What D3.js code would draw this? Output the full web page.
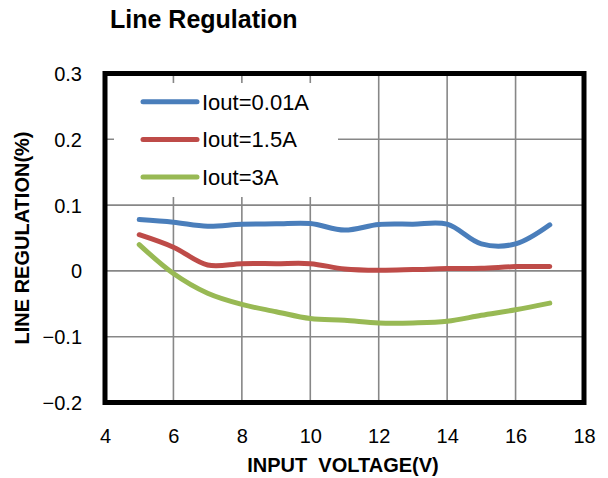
<!DOCTYPE html>
<html>
<head>
<meta charset="utf-8">
<script src="https://cdn.jsdelivr.net/npm/d3@7"></script>
<style>
  body { margin: 0; background: #fff; }
  text { font-family: "Liberation Sans", Arial, sans-serif; fill: #000; }
</style>
</head>
<body>
<svg id="chart"></svg>
<script>
// data
const vin = [5, 6, 7, 8, 9, 10, 11, 12, 13, 14, 15, 16, 17];
const iout001 = [0.078, 0.074, 0.068, 0.071, 0.0715, 0.072, 0.062, 0.0705, 0.071, 0.071, 0.041, 0.041, 0.070];
const iout15 = [0.055, 0.036, 0.009, 0.011, 0.011, 0.011, 0.003, 0.001, 0.002, 0.0035, 0.004, 0.0065, 0.0068];
const iout3 = [0.040, -0.004, -0.034, -0.051, -0.062, -0.0725, -0.075, -0.079, -0.079, -0.0766, -0.0675, -0.059, -0.049];
const seriesNames = ["Iout=0.01A", "Iout=1.5A", "Iout=3A"];
const seriesColors = ["#4a7ebb", "#be4b48", "#98b954"];
const xTicks = [4, 6, 8, 10, 12, 14, 16, 18];
const yTicks = [-0.2, -0.1, 0, 0.1, 0.2, 0.3];

const width = 608, height = 478;
const plot = { left: 105, right: 584, top: 73.5, bottom: 402.5 };

const svg = d3.select("#chart").attr("width", width).attr("height", height);

const x = d3.scaleLinear().domain([4, 18]).range([plot.left, plot.right]);
const y = d3.scaleLinear().domain([-0.2, 0.3]).range([plot.bottom, plot.top]);

// grid
svg.append("g")
  .selectAll("line.v")
  .data(xTicks.slice(1, -1))
  .join("line")
  .attr("x1", d => x(d)).attr("x2", d => x(d))
  .attr("y1", plot.top).attr("y2", plot.bottom)
  .attr("stroke", "#878787").attr("stroke-width", 1.6);

svg.append("g")
  .selectAll("line.h")
  .data(yTicks.slice(1, -1))
  .join("line")
  .attr("x1", plot.left).attr("x2", plot.right)
  .attr("y1", d => y(d)).attr("y2", d => y(d))
  .attr("stroke", "#878787").attr("stroke-width", 1.6);

// legend background covers the grid
svg.append("rect")
  .attr("x", 114).attr("y", 83).attr("width", 224).attr("height", 114)
  .attr("fill", "#fff");

// lines
const series = [iout001, iout15, iout3];
const line = d3.line()
  .x((d, i) => x(vin[i]))
  .y(d => y(d))
  .curve(d3.curveCatmullRom.alpha(0.5));

svg.append("g")
  .selectAll("path")
  .data(series)
  .join("path")
  .attr("d", line)
  .attr("fill", "none")
  .attr("stroke", (d, i) => seriesColors[i])
  .attr("stroke-width", 5)
  .attr("stroke-linecap", "round")
  .attr("stroke-linejoin", "round");

// plot border
svg.append("rect")
  .attr("x", plot.left).attr("y", plot.top)
  .attr("width", plot.right - plot.left).attr("height", plot.bottom - plot.top)
  .attr("fill", "none").attr("stroke", "#000").attr("stroke-width", 5);

// axes labels
const xAxis = d3.axisBottom(x).tickValues(xTicks).tickSize(0).tickPadding(0).tickFormat(d3.format("d"));
svg.append("g")
  .attr("transform", `translate(0,${plot.bottom})`)
  .call(xAxis)
  .call(g => g.select(".domain").remove())
  .call(g => g.selectAll("text")
    .attr("y", 40).attr("dy", 0)
    .style("font-size", "20px")
    .style("font-family", "'Liberation Sans', Arial, sans-serif")
    .attr("fill", "#000"));

const yAxis = d3.axisLeft(y).tickValues(yTicks).tickSize(0).tickPadding(0)
  .tickFormat(d => d === 0 ? "0" : d3.format(".1f")(d));
svg.append("g")
  .attr("transform", `translate(82,0)`)
  .call(yAxis)
  .call(g => g.select(".domain").remove())
  .call(g => g.selectAll("text")
    .attr("x", 0).attr("dy", "0.35em")
    .style("font-size", "20px")
    .style("font-family", "'Liberation Sans', Arial, sans-serif")
    .attr("fill", "#000"));

// legend
const legend = svg.append("g")
  .selectAll("g")
  .data(seriesNames)
  .join("g")
  .attr("transform", (d, i) => `translate(0,${101.7 + i * 37.7})`);

legend.append("line")
  .attr("x1", 143).attr("x2", 197)
  .attr("stroke", (d, i) => seriesColors[i])
  .attr("stroke-width", 5)
  .attr("stroke-linecap", "round");

legend.append("text")
  .attr("x", 202).attr("dy", "0.36em")
  .style("font-size", "22px")
  .text(d => d);

// titles
svg.append("text")
  .attr("x", 110).attr("y", 28)
  .style("font-size", "25px").style("font-weight", "bold")
  .text("Line Regulation");

svg.append("text")
  .attr("x", 343).attr("y", 472)
  .attr("text-anchor", "middle")
  .style("font-size", "20px").style("font-weight", "bold")
  .style("white-space", "pre")
  .text("INPUT  VOLTAGE(V)");

svg.append("text")
  .attr("transform", `translate(29,${(plot.top + plot.bottom) / 2}) rotate(-90)`)
  .attr("text-anchor", "middle")
  .style("font-size", "20px").style("font-weight", "bold")
  .text("LINE REGULATION(%)");
</script>
</body>
</html>
